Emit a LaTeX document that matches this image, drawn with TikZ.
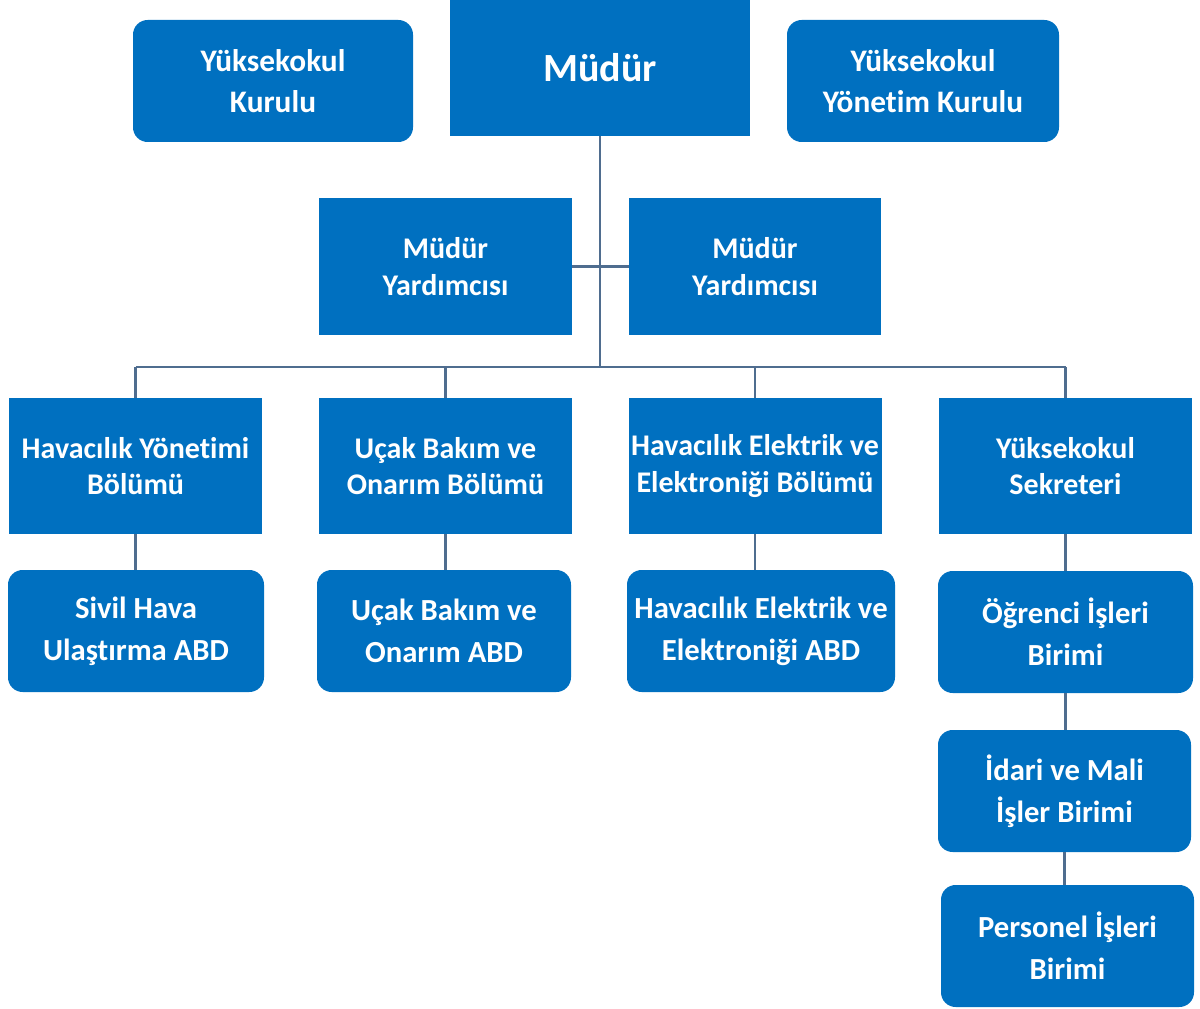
\documentclass[tikz,border=0pt]{standalone}
\usepackage{fontspec}
\setmainfont{Carlito}[Ligatures={NoCommon}]
\definecolor{boxblue}{RGB}{0,112,192}
\definecolor{linec}{RGB}{79,109,143}
\begin{document}
\begin{tikzpicture}[x=0.75pt,y=-0.75pt,
  base/.style={fill=boxblue, draw=none, text=white, inner sep=0pt, align=center, font=\bfseries},
  sq/.style={base},
  rnd/.style={base, rounded corners=11pt},
  topfont/.style={font=\fontsize{23.5}{30.5}\selectfont\bfseries},
  midfont/.style={font=\fontsize{22.5}{27.5}\selectfont\bfseries},
  lowfont/.style={font=\fontsize{23}{31.5}\selectfont\bfseries},
  conn/.style={draw=linec, line width=2.2pt}]
\useasboundingbox (0,0) rectangle (1200,1009);
% top row
\node[rnd, topfont, minimum width=210pt, minimum height=91.5pt] (yk) at (273,81) {Yüksekokul\\Kurulu};
\node[sq, font=\fontsize{30}{36}\selectfont\bfseries, minimum width=225pt, minimum height=102pt] (m) at (600,68) {Müdür};
\node[rnd, topfont, minimum width=204pt, minimum height=91.5pt] (yyk) at (923,81) {Yüksekokul\\Yönetim Kurulu};
% assistants
\node[sq, midfont, minimum width=189.75pt, minimum height=102.75pt] (my1) at (445.5,266.5) {Müdür\\Yardımcısı};
\node[sq, midfont, minimum width=189pt, minimum height=102.75pt] (my2) at (755,266.5) {Müdür\\Yardımcısı};
% level 3
\node[sq, midfont, minimum width=189.75pt, minimum height=102pt] (la) at (135.5,466) {Havacılık Yönetimi\\Bölümü};
\node[sq, midfont, minimum width=189.75pt, minimum height=102pt] (lb) at (445.5,466) {Uçak Bakım ve\\Onarım Bölümü};
\node[sq, midfont, minimum width=189.75pt, minimum height=102pt] (lc) at (755,466) {Havacılık Elektrik ve\\Elektroniği Bölümü};
\node[sq, midfont, minimum width=189.75pt, minimum height=102pt] (ld) at (1065.5,466) {Yüksekokul\\Sekreteri};
% level 4
\node[rnd, lowfont, minimum width=192pt, minimum height=91.5pt] (ka) at (136,631) {Sivil Hava\\Ulaştırma ABD};
\node[rnd, lowfont, minimum width=190.5pt, minimum height=91.5pt] (kb) at (444,631) {Uçak Bakım ve\\Onarım ABD};
\node[rnd, lowfont, minimum width=201pt, minimum height=91.5pt] (kc) at (761,631) {Havacılık Elektrik ve\\Elektroniği ABD};
\node[rnd, lowfont, minimum width=191.25pt, minimum height=91.5pt] (kd) at (1065.5,632) {Öğrenci İşleri\\Birimi};
% level 5
\node[rnd, lowfont, minimum width=189.75pt, minimum height=91.5pt] (ia) at (1064.5,791) {İdari ve Mali\\İşler Birimi};
\node[rnd, lowfont, minimum width=189.75pt, minimum height=91.5pt] (pb) at (1067.5,946) {Personel İşleri\\Birimi};
% connectors
\coordinate (bus) at (600,367);
\draw[conn] (m.south) -- (bus);
\draw[conn] (my1.east) -- (my2.west);
\draw[conn] (la.north |- bus) -- (ld.north |- bus);
\draw[conn] (la.north) -- (la.north |- bus);
\draw[conn] (lb.north) -- (lb.north |- bus);
\draw[conn] (lc.north) -- (lc.north |- bus);
\draw[conn] (ld.north) -- (ld.north |- bus);
\draw[conn] (la.south) -- (la.south |- ka.north);
\draw[conn] (lb.south) -- (lb.south |- kb.north);
\draw[conn] (lc.south) -- (lc.south |- kc.north);
\draw[conn] (ld.south) -- (ld.south |- kd.north);
\draw[conn] (kd.south) -- (kd.south |- ia.north);
\draw[conn] (ia.south) -- (ia.south |- pb.north);
\end{tikzpicture}
\end{document}
